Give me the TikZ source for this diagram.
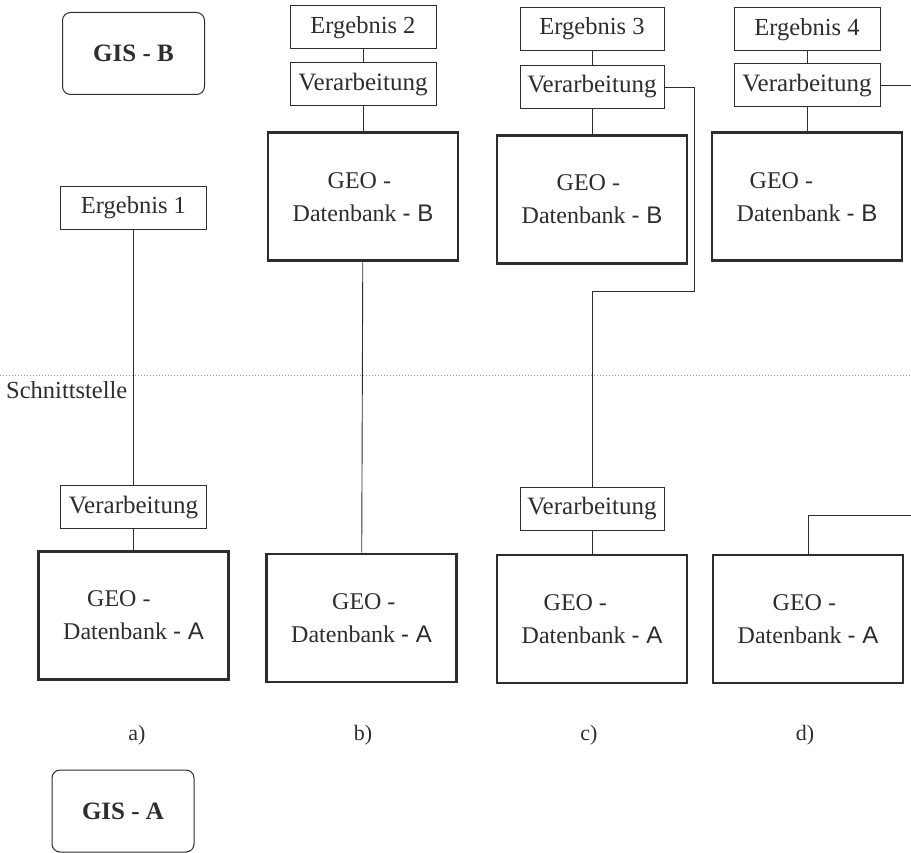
\documentclass[tikz,border=0pt]{standalone}
\usepackage{fontspec}
\setmainfont{Liberation Serif}
\setsansfont{Liberation Sans}
\usetikzlibrary{positioning, calc}
\definecolor{ink}{RGB}{45, 45, 45}
\definecolor{dotgray}{RGB}{150, 150, 150}
\newcommand{\geotext}[2]{\hspace*{#1}GEO -\\Datenbank \textsf{- #2}}

\begin{document}
\begin{tikzpicture}[x=1pt, y=-1pt,
            gisbox/.style={draw=ink, line width=1pt, rounded corners=8pt, minimum width=142pt, minimum height=82pt, inner sep=0pt, text=ink, font=\fontsize{25}{28}\selectfont\bfseries},
            resbox/.style={draw=ink, line width=1pt, minimum width=146pt, minimum height=43pt, inner sep=0pt, text=ink, font=\fontsize{24.5}{28}\selectfont},
            procbox/.style={resbox, font=\fontsize{25}{28}\selectfont},
            dbbox/.style={draw=ink, line width=2.8pt, minimum width=190pt, minimum height=128pt, inner sep=0pt, align=left, text=ink, font=\fontsize{24}{33}\selectfont},
            link/.style={draw=ink, line width=0.9pt},
            caption/.style={text=ink, inner sep=0pt, font=\fontsize{22}{26}\selectfont}
        ]
            \useasboundingbox (0,0) rectangle (911,853);

            % Schnittstelle
            \coordinate (cutl) at (0,375);
            \coordinate (cutr) at (911,375);
            \draw[dotted, dotgray, line width=1pt] (cutl) -- (cutr);
            \node[caption, anchor=west, font=\fontsize{24.5}{26}\selectfont] (cut) at (6,390) {Schnittstelle};

            \node[gisbox] (gisb) at (133.5,53.5) {GIS - B};
            \node[gisbox] (gisa) at (123,811) {\raisebox{-9pt}{GIS - A}};

            % a)
            \node[resbox] (erg1) at (133.5,208) {Ergebnis 1};
            \node[dbbox] (geoaa) at (133.5,615.5) {\geotext{24pt}{A}};
            \node[procbox, above=21pt of geoaa] (veraa) {Verarbeitung};
            \draw[link] (erg1) -- (veraa);
            \draw[link] (veraa) -- (geoaa);

            % b)
            \node[resbox] (erg2) at (363,27.5) {Ergebnis 2};
            \node[procbox, below=13pt of erg2] (verbb) {Verarbeitung};
            \node[dbbox, below=25pt of verbb] (geobb) {\geotext{35pt}{B}};
            \node[dbbox] (geoab) at (361.5,618) {\geotext{41pt}{A}};
            \draw[link] (erg2) -- (verbb);
            \draw[link] (verbb) -- (geobb);
            \draw[link] (geobb) -- (geoab);

            % c)
            \node[resbox, minimum width=144pt] (erg3) at (592,29) {Ergebnis 3};
            \node[procbox, minimum width=144pt, below=14pt of erg3] (verbc) {Verarbeitung};
            \node[dbbox, below=25pt of verbc] (geobc) {\geotext{35pt}{B}};
            \node[dbbox] (geoac) at (592,619) {\geotext{22pt}{A}};
            \node[procbox, minimum width=144pt, above=23pt of geoac] (verac) {Verarbeitung};
            \coordinate (turnc) at (694,291);
            \draw[link] (erg3) -- (verbc);
            \draw[link] (verbc) -- (geobc);
            \draw[link] (verbc.east) -| (turnc) -| (verac.north);
            \draw[link] (verac) -- (geoac);

            % d)
            \node[resbox] (erg4) at (807,29.5) {Ergebnis 4};
            \node[procbox, below=12pt of erg4] (verbd) {Verarbeitung};
            \node[dbbox, below=24pt of verbd] (geobd) {\geotext{13pt}{B}};
            \node[dbbox] (geoad) at (808,619) {\geotext{35pt}{A}};
            \coordinate (rimd) at (911,84.5);
            \coordinate (rimda) at (911,515);
            \draw[link] (erg4) -- (verbd);
            \draw[link] (verbd) -- (geobd);
            \draw[link] (verbd.east) -- (verbd.east -| rimd);
            \draw[link] (geoad.north) |- (rimda);

            \node[caption] (capa) at (137,735) {a)};
            \node[caption] (capb) at (363,735) {b)};
            \node[caption] (capc) at (589,735) {c)};
            \node[caption] (capd) at (805,735) {d)};
        \end{tikzpicture}
\end{document}
